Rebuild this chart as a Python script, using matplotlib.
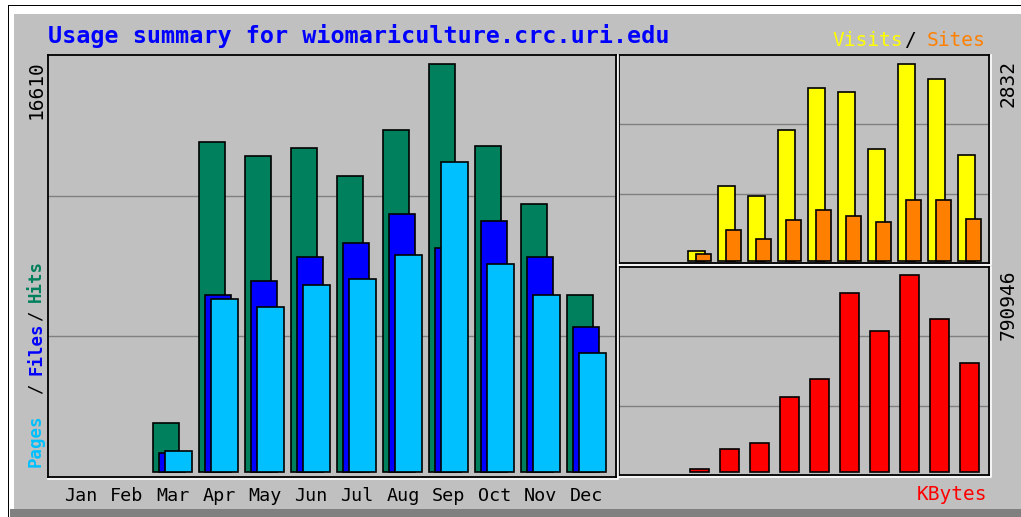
import matplotlib
matplotlib.use("Agg")
import matplotlib.pyplot as plt
from matplotlib.patches import Rectangle
from matplotlib.lines import Line2D
import numpy as np

months = ["Jan", "Feb", "Mar", "Apr", "May", "Jun", "Jul", "Aug", "Sep", "Oct", "Nov", "Dec"]
hits = [0, 0, 1983, 13422, 12864, 13190, 12050, 13923, 16610, 13271, 10898, 7206]
files = [0, 0, 761, 7206, 7789, 8766, 9335, 10491, 9107, 10231, 8766, 5915]
pages = [0, 0, 855, 7056, 6730, 7626, 7870, 8847, 12620, 8456, 7218, 4857]
visits = [0, 0, 144, 1075, 931, 1882, 2482, 2429, 1613, 2832, 2621, 1526]
sites = [0, 0, 92, 438, 317, 582, 726, 644, 553, 870, 870, 605]
kbytes = [0, 0, 9000, 91140, 115230, 299920, 372190, 718680, 564910, 790946, 613080, 435220]

W, H = 1021, 517
GRAY = "#C0C0C0"
MONO = "DejaVu Sans Mono"

fig = plt.figure(figsize=(W / 100, H / 100), dpi=100)
fig.patch.set_facecolor("white")

# page frame around the webalizer image
def frect(x0, y0, x1, y1, color):
    fig.add_artist(Rectangle((x0 / W, 1 - y1 / H), (x1 - x0) / W, (y1 - y0) / H,
                             transform=fig.transFigure, facecolor=color,
                             edgecolor="none", zorder=0))

def fline(xs, ys, color):
    fig.add_artist(Line2D([x / W for x in xs], [1 - y / H for y in ys],
                          transform=fig.transFigure, color=color, lw=1.2, zorder=0.5))

frect(8, 5, W, 517, "black")
frect(9, 6, W, 517, "white")
frect(14, 14, W, 509, GRAY)
frect(10, 509, W, 517, "#808080")


def px_axes(x0, y0, x1, y1):
    # white bevel on the right and bottom edges
    fline([x1 + 2, x1 + 2, x0], [y0, y1 + 2, y1 + 2], "white")
    ax = fig.add_axes([x0 / W, 1 - y1 / H, (x1 - x0) / W, (y1 - y0) / H])
    ax.set_facecolor(GRAY)
    for s in ax.spines.values():
        s.set_color("black")
        s.set_linewidth(1.3)
    for f in (1 / 3, 2 / 3):
        ax.plot([0, 1], [f, f], transform=ax.transAxes, color="#808080", lw=1.0, zorder=0.5)
    ax.set_yticks([])
    return ax


def bars(ax, x, vals, width, color):
    x = np.asarray(x, float)
    vals = np.asarray(vals, float)
    m = vals > 0
    ax.bar(x[m], vals[m], width=width, align="edge", color=color,
           edgecolor="black", linewidth=1.2, zorder=2)


idx = np.arange(12)

# main chart: hits / files / pages
ax = px_axes(48, 55, 616, 476.5)
bars(ax, idx, hits, 0.578, "#00805C")
bars(ax, idx + 0.13, files, 0.578, "#0000FF")
bars(ax, idx + 0.267, pages, 0.578, "#00C0FF")
ax.set_xlim(-0.276, 12.072)
ax.set_ylim(-0.011 * max(hits), 1.022 * max(hits))
ax.set_xticks(idx + 0.44, months)
ax.tick_params(axis="x", length=0, pad=7.5)
for lab in ax.get_xticklabels():
    lab.set_fontfamily(MONO)
    lab.set_fontsize(13.2)

# visits / sites
ax2 = px_axes(619, 55, 989, 263)
bars(ax2, idx, visits, 0.557, "#FFFF00")
bars(ax2, idx + 0.283, sites, 0.483, "#FF8000")
ax2.set_xlim(-0.3, 12.033)
ax2.set_ylim(-0.0117 * max(visits), 1.0458 * max(visits))
ax2.set_xticks([])

# kbytes
ax3 = px_axes(619, 267, 989, 475)
bars(ax3, idx, kbytes, 0.62, "#FF0000")
ax3.set_xlim(-0.367, 11.967)
ax3.set_ylim(-0.0168 * max(kbytes), 1.039 * max(kbytes))
ax3.set_xticks([])


def ftext(x, y, s, **kw):
    kw.setdefault("family", MONO)
    fig.text(x / W, 1 - y / H, s, **kw)


ftext(48, 43, "Usage summary for wiomariculture.crc.uri.edu", color="#0000FF",
      fontsize=16.8, fontweight="bold", ha="left", va="baseline")
ftext(832, 46, "Visits", color="#FFFF00", fontsize=14, ha="left", va="baseline")
ftext(910, 46, "/", color="black", fontsize=14, ha="center", va="baseline")
ftext(927, 46, "Sites", color="#FF8000", fontsize=14, ha="left", va="baseline")
ftext(987, 500, "KBytes", color="#FF0000", fontsize=14, ha="right", va="baseline")

ftext(36, 60, str(max(hits)), color="black", fontsize=14, rotation=90, ha="center", va="top")
ftext(1008, 60, str(max(visits)), color="black", fontsize=14, rotation=90, ha="center", va="top")
ftext(1008, 270, str(max(kbytes)), color="black", fontsize=14, rotation=90, ha="center", va="top")

ftext(36, 441, "Pages", color="#00C0FF", fontsize=12.5, fontweight="bold", rotation=90, ha="center", va="center")
ftext(36, 389, "/", color="black", fontsize=12.5, rotation=90, ha="center", va="center")
ftext(36, 349, "Files", color="#0000FF", fontsize=12.5, fontweight="bold", rotation=90, ha="center", va="center")
ftext(36, 316, "/", color="black", fontsize=12.5, rotation=90, ha="center", va="center")
ftext(36, 281, "Hits", color="#00805C", fontsize=12.5, fontweight="bold", rotation=90, ha="center", va="center")

fig.savefig("out.png", dpi=100, facecolor=fig.get_facecolor())
